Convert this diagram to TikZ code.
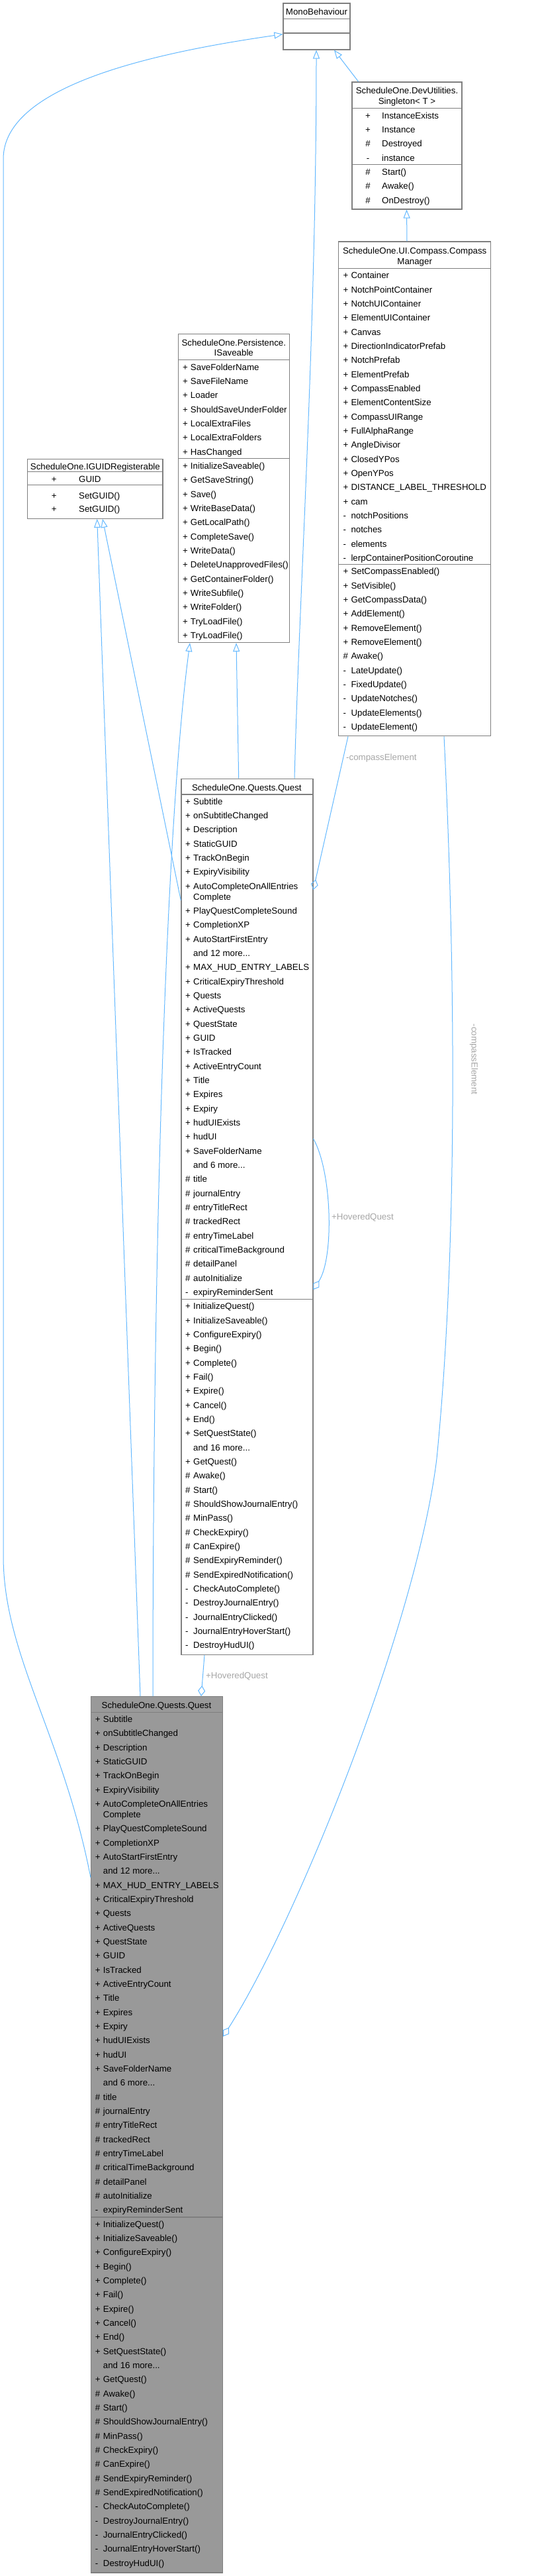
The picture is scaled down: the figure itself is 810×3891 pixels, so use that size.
\documentclass[tikz,border=0pt]{standalone}
\usepackage{fontspec}
\setmainfont{Liberation Sans}
\usetikzlibrary{arrows.meta}

\definecolor{edgeblue}{HTML}{63B8FF}
\definecolor{boxline}{HTML}{7F7F7F}
\definecolor{boxgrey}{HTML}{999999}
\definecolor{labelgrey}{HTML}{A6A6A6}
\newcommand{\umlfont}{\fontsize{13.3}{16}\selectfont}
\newcommand{\threedots}{...}

\begin{document}
\begin{tikzpicture}[
    x=1pt, y=-1pt,
    every node/.style={font=\umlfont, inner sep=0pt},
    classbox/.style={draw=boxline, line width=1.2pt, fill=white, inner sep=0pt},
    divider/.style={boxline, line width=1.2pt},
    member/.style={anchor=base west},
    heading/.style={anchor=base},
    inherit/.style={edgeblue, line width=1pt, -{Triangle[open, length=13pt, width=10pt]}},
    usage/.style={edgeblue, line width=1pt, -{Diamond[open, length=16pt, width=11pt]}},
    rolename/.style={text=labelgrey, anchor=base west}
]

\useasboundingbox (0,0) rectangle (810,3891);

% =========================================================
% MonoBehaviour
% =========================================================

\node[classbox, minimum width=101, minimum height=70] (mono) at (478.5,40) {};
\node[heading] (mono-name) at (478.5,23) {MonoBehaviour};
\draw[divider] ([yshift=-24.3pt]mono.north west) -- ([yshift=-24.3pt]mono.north east);
\draw[divider] ([yshift=-45.7pt]mono.north west) -- ([yshift=-45.7pt]mono.north east);


% =========================================================
% Singleton< T >
% =========================================================

\node[classbox, minimum width=166, minimum height=192] (singleton) at (615,220) {};
\node[heading] (singleton-ns) at (615,142) {ScheduleOne.DevUtilities.};
\node[heading] (singleton-name) at (615,158) {Singleton< T >};
\draw[divider] ([yshift=-40pt]singleton.north west) -- ([yshift=-40pt]singleton.north east);
\draw[divider] ([yshift=-125pt]singleton.north west) -- ([yshift=-125pt]singleton.north east);

\foreach \p/\t [count=\i] in {+/InstanceExists, +/Instance, \#/Destroyed, -/instance} {
    \node[heading] (singleton-ap\i) at (556,{179.2+21.4*(\i-1)}) {\p};
    \node[member] (singleton-a\i) at (577,{179.2+21.4*(\i-1)}) {\t};
}
\foreach \p/\t [count=\i] in {\#/Start(), \#/Awake(), \#/OnDestroy()} {
    \node[heading] (singleton-mp\i) at (556,{264.2+21.4*(\i-1)}) {\p};
    \node[member] (singleton-m\i) at (577,{264.2+21.4*(\i-1)}) {\t};
}


% =========================================================
% CompassManager
% =========================================================

\node[classbox, minimum width=230, minimum height=746.7] (compass) at (626.7,738.35) {};
\node[heading] (compass-ns) at (626.7,383) {ScheduleOne.UI.Compass.Compass};
\node[heading] (compass-name) at (626.7,399) {Manager};
\draw[divider] ([yshift=-40.7pt]compass.north west) -- ([yshift=-40.7pt]compass.north east);
\draw[divider] ([yshift=-487.7pt]compass.north west) -- ([yshift=-487.7pt]compass.north east);

\foreach \p/\t [count=\i] in {+/Container, +/NotchPointContainer, +/NotchUIContainer,
    +/ElementUIContainer, +/Canvas, +/DirectionIndicatorPrefab, +/NotchPrefab,
    +/ElementPrefab, +/CompassEnabled, +/ElementContentSize, +/CompassUIRange,
    +/FullAlphaRange, +/AngleDivisor, +/ClosedYPos, +/OpenYPos,
    +/DISTANCE\_LABEL\_THRESHOLD, +/cam, -/notchPositions, -/notches, -/elements,
    -/lerpContainerPositionCoroutine} {
    \node[member] (compass-a\i) at (518.3,{420.9+21.33*(\i-1)}) {\makebox[12pt][l]{\p}\t};
}
\foreach \p/\t [count=\i] in {+/SetCompassEnabled(), +/SetVisible(), +/GetCompassData(),
    +/AddElement(), +/RemoveElement(), +/RemoveElement(), \#/Awake(), -/LateUpdate(),
    -/FixedUpdate(), -/UpdateNotches(), -/UpdateElements(), -/UpdateElement()} {
    \node[member] (compass-m\i) at (518.3,{867.9+21.33*(\i-1)}) {\makebox[12pt][l]{\p}\t};
}


% =========================================================
% ISaveable
% =========================================================

\node[classbox, minimum width=168, minimum height=466.4] (saveable) at (353.3,737.4) {};
\node[heading] (saveable-ns) at (353.3,522) {ScheduleOne.Persistence.};
\node[heading] (saveable-name) at (353.3,537.8) {ISaveable};
\draw[divider] ([yshift=-39.8pt]saveable.north west) -- ([yshift=-39.8pt]saveable.north east);
\draw[divider] ([yshift=-189.1pt]saveable.north west) -- ([yshift=-189.1pt]saveable.north east);

\foreach \p/\t [count=\i] in {+/SaveFolderName, +/SaveFileName, +/Loader,
    +/ShouldSaveUnderFolder, +/LocalExtraFiles, +/LocalExtraFolders, +/HasChanged} {
    \node[member] (saveable-a\i) at (275.8,{559.2+21.33*(\i-1)}) {\makebox[12pt][l]{\p}\t};
}
\foreach \p/\t [count=\i] in {+/InitializeSaveable(), +/GetSaveString(), +/Save(),
    +/WriteBaseData(), +/GetLocalPath(), +/CompleteSave(), +/WriteData(),
    +/DeleteUnapprovedFiles(), +/GetContainerFolder(), +/WriteSubfile(),
    +/WriteFolder(), +/TryLoadFile(), +/TryLoadFile()} {
    \node[member] (saveable-m\i) at (275.8,{708.5+21.33*(\i-1)}) {\makebox[12pt][l]{\p}\t};
}


% =========================================================
% IGUIDRegisterable
% =========================================================

\node[classbox, minimum width=204.3, minimum height=90] (guid) at (143.85,738.3) {};
\node[heading] (guid-name) at (143.85,709.7) {ScheduleOne.IGUIDRegisterable};
\draw[divider] ([yshift=-19.4pt]guid.north west) -- ([yshift=-19.4pt]guid.north east);
\draw[divider] ([yshift=-39.4pt]guid.north west) -- ([yshift=-39.4pt]guid.north east);

\node[heading] (guid-ap1) at (81.7,728) {+};
\node[member] (guid-a1) at (119,728) {GUID};
\node[heading] (guid-mp1) at (81.7,753.7) {+};
\node[member] (guid-m1) at (119,753.7) {SetGUID()};
\node[heading] (guid-mp2) at (81.7,773.7) {+};
\node[member] (guid-m2) at (119,773.7) {SetGUID()};


% =========================================================
% Quest (collaborator) and Quest (this class, grey)
% =========================================================

\foreach \bx/\L/\T/\fc in {questref/273.3/1175.7/white, quest/137/2562/boxgrey} {
    \node[classbox, fill=\fc, minimum width=199, minimum height=1323.3, anchor=north west] (\bx) at (\L,\T) {};
    \node[heading] (\bx-name) at ({\L+99.5},{\T+18.4}) {ScheduleOne.Quests.Quest};
    \draw[divider] ([yshift=-24.3pt]\bx.north west) -- ([yshift=-24.3pt]\bx.north east);
    \draw[divider] ([yshift=-787pt]\bx.north west) -- ([yshift=-787pt]\bx.north east);

    \foreach \p/\t [count=\i] in {+/Subtitle, +/onSubtitleChanged, +/Description,
        +/StaticGUID, +/TrackOnBegin, +/ExpiryVisibility, +/AutoCompleteOnAllEntries,
        +/PlayQuestCompleteSound, +/CompletionXP, +/AutoStartFirstEntry,
        {}/and 12 more\threedots, +/MAX\_HUD\_ENTRY\_LABELS, +/CriticalExpiryThreshold,
        +/Quests, +/ActiveQuests, +/QuestState, +/GUID, +/IsTracked, +/ActiveEntryCount,
        +/Title, +/Expires, +/Expiry, +/hudUIExists, +/hudUI, +/SaveFolderName,
        {}/and 6 more\threedots, \#/title, \#/journalEntry, \#/entryTitleRect,
        \#/trackedRect, \#/entryTimeLabel, \#/criticalTimeBackground, \#/detailPanel,
        \#/autoInitialize, -/expiryReminderSent} {
        \node[member] (\bx-a\i) at ({\L+6.7},{\T+39.5+21.33*(\i-1)+16*(\i>7)}) {\makebox[12pt][l]{\p}\t};
    }
    \node[member] (\bx-a7b) at ({\L+18.7},{\T+39.5+21.33*6+16}) {Complete};

    \foreach \p/\t [count=\i] in {+/InitializeQuest(), +/InitializeSaveable(),
        +/ConfigureExpiry(), +/Begin(), +/Complete(), +/Fail(), +/Expire(), +/Cancel(),
        +/End(), +/SetQuestState(), {}/and 16 more\threedots, +/GetQuest(), \#/Awake(),
        \#/Start(), \#/ShouldShowJournalEntry(), \#/MinPass(), \#/CheckExpiry(),
        \#/CanExpire(), \#/SendExpiryReminder(), \#/SendExpiredNotification(),
        -/CheckAutoComplete(), -/DestroyJournalEntry(), -/JournalEntryClicked(),
        -/JournalEntryHoverStart(), -/DestroyHudUI()} {
        \node[member] (\bx-m\i) at ({\L+6.7},{\T+802.2+21.33*(\i-1)}) {\makebox[12pt][l]{\p}\t};
    }
}


% =========================================================
% Inheritance
% =========================================================

\draw[inherit] (singleton.north -| 541.7,0) -- (mono.south -| 505,0);
\draw[inherit] (compass.north -| 615,0) -- (singleton.south -| 614.5,0);
\draw[inherit] (questref.north -| 445,0) .. controls (452,900) and (478,500) .. (mono.south -| 478,0);
\draw[inherit] (questref.north -| 360.7,0) -- (saveable.south -| 357,0);
\draw[inherit] (questref.west |- 0,1360) -- (guid.south -| 155,0);
\draw[inherit] (quest.north -| 212,0) -- (guid.south -| 146.7,0);
\draw[inherit] (quest.north -| 231,0) .. controls (231,1900) and (250,1250) .. (saveable.south -| 287,0);
\draw[inherit] (quest.west |- 0,2836) .. controls (95,2620) and (5,2500) .. (5,2350)
    -- (5,240) .. controls (5,130) and (230,80) .. (mono.west |- 0,51.7);


% =========================================================
% Usage
% =========================================================

\draw[usage] (compass.south -| 526,0) -- (questref.east |- 0,1344);
\node[rolename] (role-compass1) at (523,1148) {-compassElement};

\draw[usage] (compass.south -| 671,0) .. controls (690,1500) and (690,1900) .. (660,2203)
    .. controls (630,2450) and (450,2900) .. (quest.east |- 0,3076);
\node[text=labelgrey, rotate=-90] (role-compass2) at (716,1600) {-compassElement};

\draw[usage] (questref.east |- 0,1720) .. controls (502,1770) and (505,1900) .. (questref.east |- 0,1948);
\node[rolename] (role-hovered1) at (501,1842) {+HoveredQuest};

\draw[usage] (questref.south -| 309,0) -- (quest.north -| 304,0);
\node[rolename] (role-hovered2) at (311,2535.4) {+HoveredQuest};

\end{tikzpicture}
\end{document}
